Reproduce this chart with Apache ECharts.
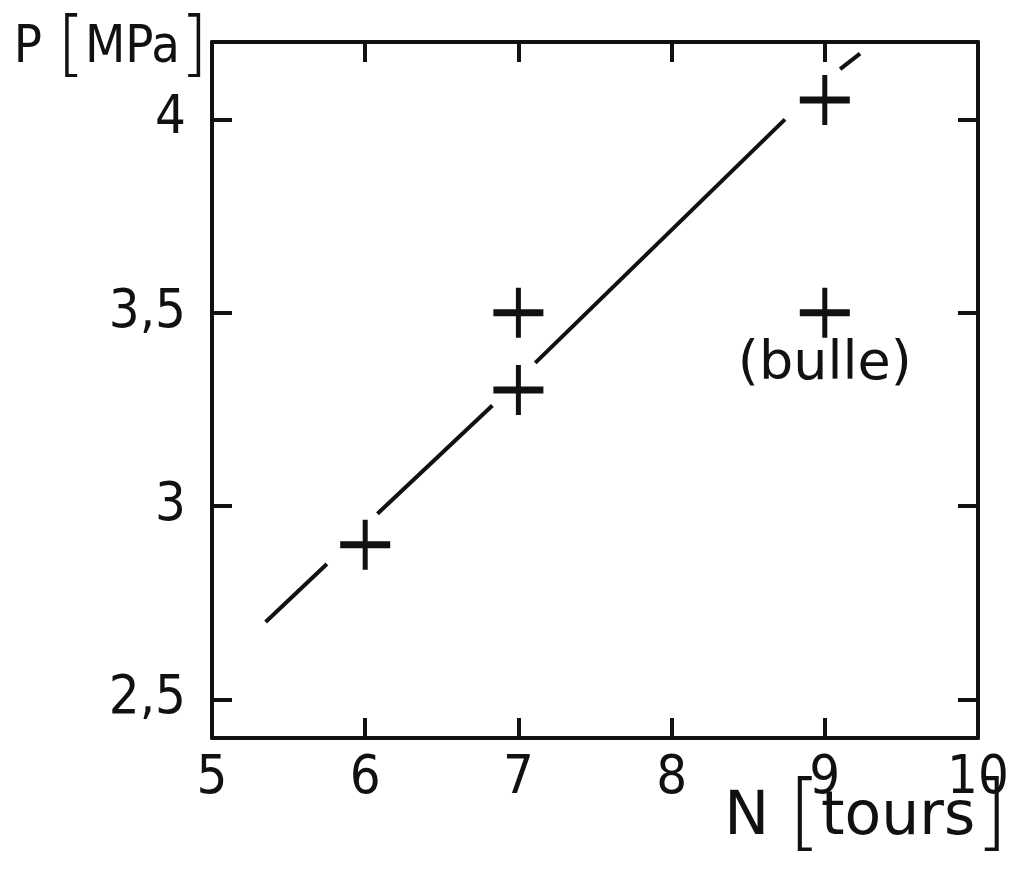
<!DOCTYPE html>
<html>
<head>
<meta charset="utf-8">
<script src="https://cdn.jsdelivr.net/npm/echarts@6/dist/echarts.min.js"></script>
<style>
  html, body { margin: 0; padding: 0; background: #fff; }
  #chart { width: 1020px; height: 871px; }
</style>
</head>
<body>
<div id="chart"></div>
<script>
// measured points (N, P)
const pointsN = [6, 7, 7, 9, 9];
const pointsP = [2.9, 3.5, 3.3, 4.05, 3.5];
const pointNotes = ["", "", "", "", "(bulle)"];

// fitted line, drawn broken around the crosses: [N, P] ends of each piece
const lineSegments = [
  [[5.35, 2.70], [5.75, 2.85]],
  [[6.08, 2.98], [6.83, 3.26]],
  [[7.11, 3.37], [8.74, 4.00]],
  [[9.10, 4.13], [9.23, 4.17]],
];

const xTicks = [5, 6, 7, 8, 9, 10];
const yTicks = [2.5, 3, 3.5, 4];

const ink = "#111";
const font = "'Liberation Sans Narrow', 'DejaVu Sans Condensed', sans-serif";
const wideFont = "'DejaVu Sans', sans-serif";

const crossPath = "path://M0,43 L100,43 L100,57 L0,57 Z M45,0 L55,0 L55,100 L45,100 Z";

var myChart = echarts.init(document.getElementById("chart"));

function axisBase(values) {
  return {
    type: "value",
    axisLine: { show: true, lineStyle: { color: ink, width: 4 } },
    axisTick: {
      show: true,
      inside: true,
      length: 20,
      customValues: values,
      lineStyle: { color: ink, width: 4 },
    },
    axisLabel: { show: false },
    splitLine: { show: false },
  };
}

var option = {
  backgroundColor: "#fff",
  animation: false,
  grid: {
    left: 212,
    right: 42,
    top: 42,
    bottom: 133,
    containLabel: false,
    outerBoundsMode: "none",
  },
  xAxis: [
    Object.assign(axisBase(xTicks), {
      min: 5,
      max: 10,
      position: "bottom",
      name: "{t|N }{b|[}{t|tours}{b|]}",
      nameLocation: "end",
      nameGap: 30,
      nameMoveOverlap: false,
      nameTextStyle: {
        align: "right",
        verticalAlign: "top",
        padding: [38, 0, 0, 0],
        rich: {
          t: { fontFamily: wideFont, fontSize: 60, color: ink },
          b: { fontFamily: wideFont, fontWeight: 200, fontSize: 84, color: ink },
        },
      },
      axisLabel: {
        show: true,
        customValues: xTicks,
        margin: 14,
        fontFamily: font,
        fontSize: 54,
        color: ink,
      },
    }),
    Object.assign(axisBase(xTicks), {
      min: 5,
      max: 10,
      position: "top",
    }),
  ],
  yAxis: [
    Object.assign(axisBase(yTicks), {
      min: 2.4,
      max: 4.2,
      position: "left",
      name: "{t|P }{b|[}{t|MPa}{b|]}",
      nameLocation: "end",
      nameGap: -6,
      nameMoveOverlap: false,
      nameTextStyle: {
        align: "right",
        verticalAlign: "middle",
        padding: [0, 4, 0, 0],
        rich: {
          t: { fontFamily: font, fontSize: 52, color: ink },
          b: { fontFamily: wideFont, fontWeight: 200, fontSize: 72, color: ink },
        },
      },
      axisLabel: {
        show: true,
        customValues: yTicks,
        margin: 26,
        fontFamily: font,
        fontSize: 54,
        color: ink,
        formatter: function(v) {
          return String(v).replace(".", ",");
        },
      },
    }),
    Object.assign(axisBase(yTicks), {
      min: 2.4,
      max: 4.2,
      position: "right",
    }),
  ],
  series: lineSegments
    .map(function(seg) {
      return {
        type: "line",
        data: seg,
        symbol: "none",
        silent: true,
        lineStyle: { color: ink, width: 4 },
      };
    })
    .concat([
      {
        type: "scatter",
        symbol: crossPath,
        symbolSize: 50,
        itemStyle: { color: ink, opacity: 1 },
        data: pointsN.map(function(n, i) {
          return {
            value: [n, pointsP[i]],
            label: {
              show: pointNotes[i] !== "",
              formatter: pointNotes[i],
              position: "bottom",
              distance: 0,
              fontFamily: wideFont,
              fontSize: 54,
              color: ink,
            },
          };
        }),
      },
    ]),
};

myChart.setOption(option);
</script>
</body>
</html>
